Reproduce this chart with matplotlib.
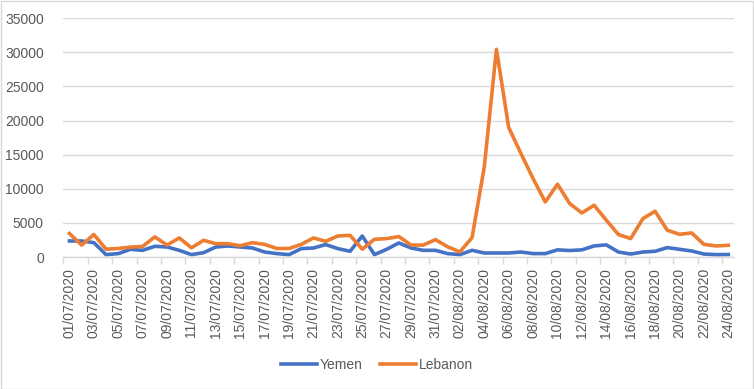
import matplotlib
matplotlib.use("Agg")
import matplotlib.pyplot as plt
from matplotlib.patches import Rectangle
import datetime as dt

start = dt.date(2020, 7, 1)
dates = [(start + dt.timedelta(days=i)).strftime("%d/%m/%Y") for i in range(55)]

yemen = [2350, 2350, 2110, 350, 500, 1130, 980, 1570, 1470, 980,
         350, 640, 1470, 1620, 1470, 1320, 730, 500, 350, 1230,
         1320, 1820, 1230, 840, 3080, 350, 1130, 2060, 1320, 980,
         980, 500, 350, 980, 590, 590, 590, 730, 500, 500,
         1050, 950, 1050, 1620, 1780, 730, 440, 730, 840, 1380,
         1130, 880, 440, 350, 370]
lebanon = [3450, 1750, 3300, 1150, 1250, 1450, 1550, 2950, 1750, 2800,
           1350, 2450, 1950, 1950, 1650, 2100, 1850, 1250, 1250, 1850,
           2800, 2300, 3080, 3180, 1150, 2600, 2700, 3000, 1750, 1750,
           2550, 1500, 750, 2850, 13200, 30450, 19000, 15200, 11500, 8070,
           10670, 7840, 6460, 7590, 5400, 3290, 2700, 5630, 6710, 3920,
           3330, 3520, 1860, 1620, 1720]
yticks = [0, 5000, 10000, 15000, 20000, 25000, 30000, 35000]

plt.rcParams['font.family'] = ['Liberation Sans', 'DejaVu Sans']
gray = '#595959'

fig = plt.figure(figsize=(7.54, 3.89), dpi=100)
ax = fig.add_axes([0.0840, 0.3393, 0.974 - 0.0840, 0.953 - 0.3393])

x = list(range(len(dates)))
ax.plot(x, yemen, color='#4472C4', lw=2.6, label='Yemen', solid_joinstyle='round')
ax.plot(x, lebanon, color='#ED7D31', lw=2.6, label='Lebanon', solid_joinstyle='round')

ax.set_xlim(-0.5, len(dates) - 0.5)
ax.set_ylim(0, 35000)
ax.set_yticks(yticks)
ax.set_yticklabels([str(v) for v in yticks])
ax.yaxis.grid(True, color='#d9d9d9', lw=1)
ax.set_axisbelow(True)

ax.set_xticks(x[::2])
ax.set_xticklabels(dates[::2], rotation=90)
ax.set_xticks([i - 0.5 for i in x[::2]], minor=True)
ax.tick_params(axis='x', which='major', length=0, pad=8, colors=gray, labelsize=10)
ax.tick_params(axis='x', which='minor', length=5, color='#d9d9d9', width=1)
ax.tick_params(axis='y', length=0, pad=14, colors=gray, labelsize=10)

for s in ['top', 'right', 'left']:
    ax.spines[s].set_visible(False)
ax.spines['bottom'].set_color('#d9d9d9')
ax.spines['bottom'].set_linewidth(1)

leg = fig.legend(loc='center', bbox_to_anchor=(0.5, 1 - 365 / 389), ncol=2,
                 frameon=False, fontsize=10, handlelength=2.6, handletextpad=0.2,
                 columnspacing=1.2)
for t in leg.get_texts():
    t.set_color(gray)

fig.patches.append(Rectangle((0.001, 0.001), 0.998, 0.997, transform=fig.transFigure,
                             fill=False, edgecolor='#d9d9d9', lw=1))

fig.savefig('out.png', dpi=100, facecolor='white')
